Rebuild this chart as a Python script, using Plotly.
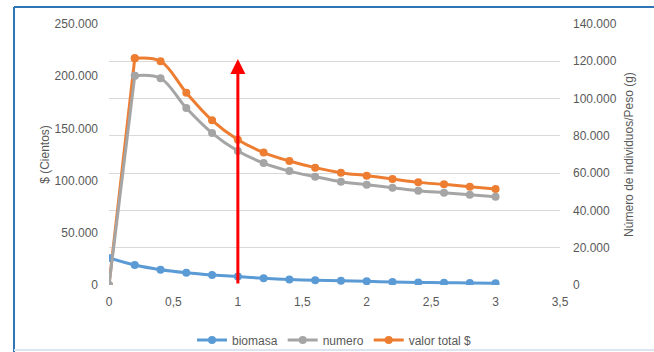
import plotly.graph_objects as go

# Tiempo (eje X)
x_vals = [0, 0.2, 0.4, 0.6, 0.8, 1.0, 1.2, 1.4, 1.6, 1.8, 2.0, 2.2, 2.4, 2.6, 2.8, 3.0]

# Series (eje derecho: número de individuos / peso)
biomasa = [14500, 10700, 8200, 6600, 5400, 4500, 3600, 3000, 2500, 2300, 2000, 1600, 1400, 1200, 1100, 900]
numero = [0, 112300, 110900, 94900, 81500, 71900, 65400, 61100, 58100, 55400, 53800, 52200, 50600, 49500, 48400, 47400]

# Serie en el eje izquierdo: $ (Cientos)
valor_total = [0, 217100, 214300, 184200, 157700, 139200, 126900, 118800, 112400, 107600, 104700, 101500, 98300, 96400, 94200, 91900]

# Punto señalado por la flecha
flecha_x = 1.0
flecha_y = 216500

FONT = "Liberation Sans, Arial, sans-serif"
GRIS = "#595959"

fig = go.Figure()


def serie(nombre, valores, color, eje, suavizado):
    """Línea suavizada con marcadores; el tramo inicial desde 0 se traza recto."""
    # tramo inicial (0 -> 0,2)
    fig.add_trace(go.Scatter(
        x=x_vals[:2], y=valores[:2], yaxis=eje, showlegend=False, legendgroup=nombre,
        mode="lines+markers", line=dict(color=color, width=3),
        marker=dict(size=8, color=color), hoverinfo="skip",
    ))
    # resto de la curva
    fig.add_trace(go.Scatter(
        x=x_vals[1:], y=valores[1:], name=nombre, yaxis=eje, legendgroup=nombre,
        mode="lines+markers",
        line=dict(color=color, width=3, shape="spline", smoothing=suavizado),
        marker=dict(size=8, color=color),
    ))


fig.add_trace(go.Scatter(
    x=x_vals, y=biomasa, name="biomasa", yaxis="y2",
    mode="lines+markers",
    line=dict(color="#5B9BD5", width=3, shape="spline", smoothing=0.8),
    marker=dict(size=8, color="#5B9BD5"),
))
serie("numero", numero, "#A5A5A5", "y2", 1.0)
serie("valor total $", valor_total, "#ED7D31", "y", 1.0)

fig.add_annotation(
    x=flecha_x, y=flecha_y, xref="x", yref="y",
    ax=flecha_x, ay=0, axref="x", ayref="y",
    text="", showarrow=True, arrowhead=2, arrowsize=1, arrowwidth=3,
    arrowcolor="#FF0000",
)

# marco del gráfico
fig.add_shape(type="line", xref="paper", yref="paper",
              x0=-0.2106, x1=-0.2106, y0=-0.26, y1=1.065,
              line=dict(color="#2E75B6", width=2))
fig.add_shape(type="line", xref="paper", yref="paper",
              x0=-0.2106, x1=1.25, y0=1.065, y1=1.065,
              line=dict(color="#2E75B6", width=2))
fig.add_shape(type="line", xref="paper", yref="paper",
              x0=-0.2106, x1=1.25, y0=-0.249, y1=-0.249,
              line=dict(color="#DCE6F2", width=2))

fig.update_layout(
    width=654, height=352,
    margin=dict(l=109, r=94, t=24, b=67, autoexpand=False),
    paper_bgcolor="white", plot_bgcolor="white",
    separators=",.",
    font=dict(family=FONT, size=12, color=GRIS),
    showlegend=True,
    legend=dict(orientation="h", x=0.5, xanchor="center",
                yref="container", y=12 / 352, yanchor="middle",
                font=dict(family=FONT, size=12, color=GRIS), itemwidth=30,
                bgcolor="rgba(0,0,0,0)"),
    xaxis=dict(range=[0, 3.5], dtick=0.5, tick0=0, showgrid=False, zeroline=False,
               showline=False, ticks="", ticklabelstandoff=8,
               tickfont=dict(family=FONT, size=12, color=GRIS)),
    yaxis=dict(range=[0, 250000], dtick=50000, tickformat=",.0f", showgrid=False,
               zeroline=False, showline=False, ticks="", ticklabelstandoff=10,
               tickfont=dict(family=FONT, size=12, color=GRIS),
               title=dict(text="$ (Cientos)", standoff=2,
                          font=dict(family=FONT, size=12, color=GRIS))),
    yaxis2=dict(range=[0, 140000], dtick=20000, tickformat=",.0f", overlaying="y",
                side="right", showgrid=True, gridcolor="#D9D9D9", gridwidth=1,
                zeroline=False, showline=False, ticks="", ticklabelstandoff=12,
                tickfont=dict(family=FONT, size=12, color=GRIS),
                title=dict(text="Número de individuos/Peso (g)", standoff=8,
                           font=dict(family=FONT, size=12, color=GRIS))),
)

fig.write_html("out.html")
